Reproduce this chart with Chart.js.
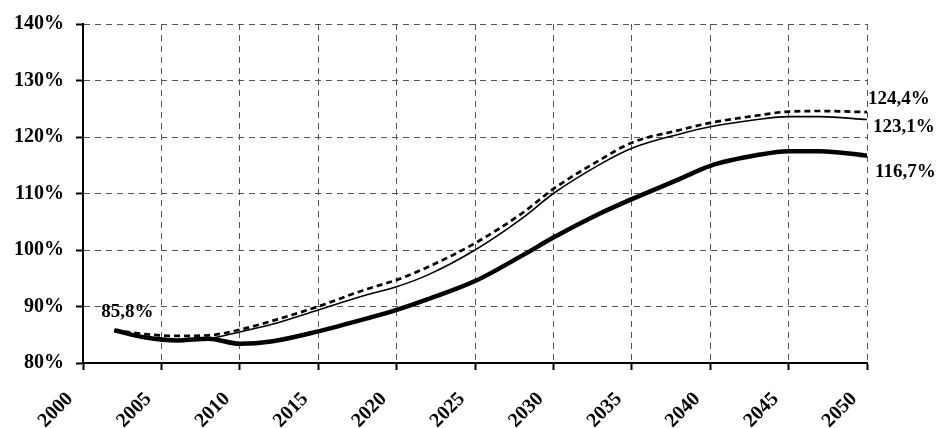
<!DOCTYPE html>
<html>
<head>
<meta charset="utf-8">
<script src="https://cdn.jsdelivr.net/npm/chart.js@4/dist/chart.umd.min.js"></script>
<style>
  html, body { margin: 0; padding: 0; background: #fff; }
  #wrap { width: 942px; height: 428px; }
</style>
</head>
<body>
<div id="wrap"><canvas id="ratio" width="942" height="428"></canvas></div>
<script>
// Data
const years = [2002, 2004, 2006, 2008, 2010, 2012, 2015, 2018, 2020, 2022, 2025,
               2028, 2030, 2033, 2035, 2038, 2040, 2043, 2045, 2047, 2050];
const dashedSeries = [85.8, 85.1, 84.8, 84.9, 85.9, 87.4, 90.0, 93.0, 94.7, 97.0, 101.2,
                      106.5, 110.8, 116.0, 119.0, 121.2, 122.5, 123.8, 124.5, 124.6, 124.4];
const thinSeries = [85.8, 84.5, 84.0, 84.3, 85.5, 86.8, 89.4, 92.0, 93.5, 95.6, 100.0,
                    105.6, 110.0, 115.2, 118.0, 120.5, 121.8, 123.1, 123.6, 123.6, 123.1];
const thickSeries = [85.8, 84.5, 84.0, 84.3, 83.4, 83.8, 85.6, 87.8, 89.4, 91.3, 94.5,
                     99.0, 102.2, 106.5, 109.0, 112.5, 114.9, 116.8, 117.5, 117.5, 116.7];
const xTicks = [2000, 2005, 2010, 2015, 2020, 2025, 2030, 2035, 2040, 2045, 2050];
const yTicks = [80, 90, 100, 110, 120, 130, 140];
const startLabel = '85,8%';
const endLabels = ['124,4%', '123,1%', '116,7%'];

const pts = vals => vals.map((v, i) => ({x: years[i], y: v}));
const FONT = '"Liberation Serif", "Times New Roman", serif';

// value labels at start / end of the lines + rotated year labels
const valueLabels = {
  id: 'valueLabels',
  afterDraw(chart) {
    const c = chart.ctx;
    c.save();
    c.font = 'bold 19px ' + FONT;
    c.fillStyle = '#000';
    c.textBaseline = 'middle';
    c.textAlign = 'left';
    const offs = [[1, -13], [6, 8], [8, 16]];
    chart.data.datasets.forEach((ds, i) => {
      const p = chart.getDatasetMeta(i).data;
      const last = p[p.length - 1];
      c.fillText(endLabels[i], last.x + offs[i][0], last.y + offs[i][1]);
    });
    const first = chart.getDatasetMeta(2).data[0];
    c.textAlign = 'center';
    c.fillText(startLabel, first.x + 13, first.y - 18);

    // x axis labels, rotated 45deg
    const xs = chart.scales.x;
    c.font = 'bold 20px ' + FONT;
    c.textAlign = 'right';
    xTicks.forEach(v => {
      c.save();
      c.translate(xs.getPixelForValue(v) - 13, xs.top + 33);
      c.rotate(-Math.PI / 4);
      c.fillText(String(v), 0, 0);
      c.restore();
    });
    c.restore();
  }
};

const ctx = document.getElementById('ratio').getContext('2d');
new Chart(ctx, {
  type: 'line',
  data: {
    datasets: [
      {data: pts(dashedSeries), borderColor: '#000', borderWidth: 2.7, borderDash: [6, 4]},
      {data: pts(thinSeries), borderColor: '#000', borderWidth: 1.6},
      {data: pts(thickSeries), borderColor: '#000', borderWidth: 4.5}
    ]
  },
  plugins: [valueLabels],
  options: {
    responsive: false,
    animation: false,
    events: [],
    layout: {padding: {top: 21, right: 75, left: 0, bottom: 0}},
    elements: {
      point: {radius: 0},
      line: {tension: 0.4, cubicInterpolationMode: 'monotone', fill: false}
    },
    plugins: {legend: {display: false}, tooltip: {enabled: false}},
    scales: {
      x: {
        type: 'linear', min: 2000, max: 2050,
        afterFit: s => { s.height = 65; },
        afterBuildTicks: s => { s.ticks = xTicks.map(v => ({value: v})); },
        grid: {color: '#555', lineWidth: 1, borderDash: [6, 5], tickColor: '#000', tickWidth: 2, tickLength: 7, tickBorderDash: []},
        border: {display: true, color: '#000', width: 2, dash: [6, 5]},
        ticks: {display: false}
      },
      y: {
        min: 80, max: 140,
        afterFit: s => { s.width = 83; },
        afterBuildTicks: s => { s.ticks = yTicks.map(v => ({value: v})); },
        grid: {color: '#555', lineWidth: 1, borderDash: [6, 5], tickColor: '#000', tickWidth: 2, tickLength: 7, tickBorderDash: []},
        border: {display: true, color: '#000', width: 2, dash: [6, 5]},
        ticks: {
          color: '#000', font: {family: FONT, size: 20, weight: 'bold'},
          padding: 12,
          callback: v => v + '%'
        }
      }
    }
  }
});
</script>
</body>
</html>
